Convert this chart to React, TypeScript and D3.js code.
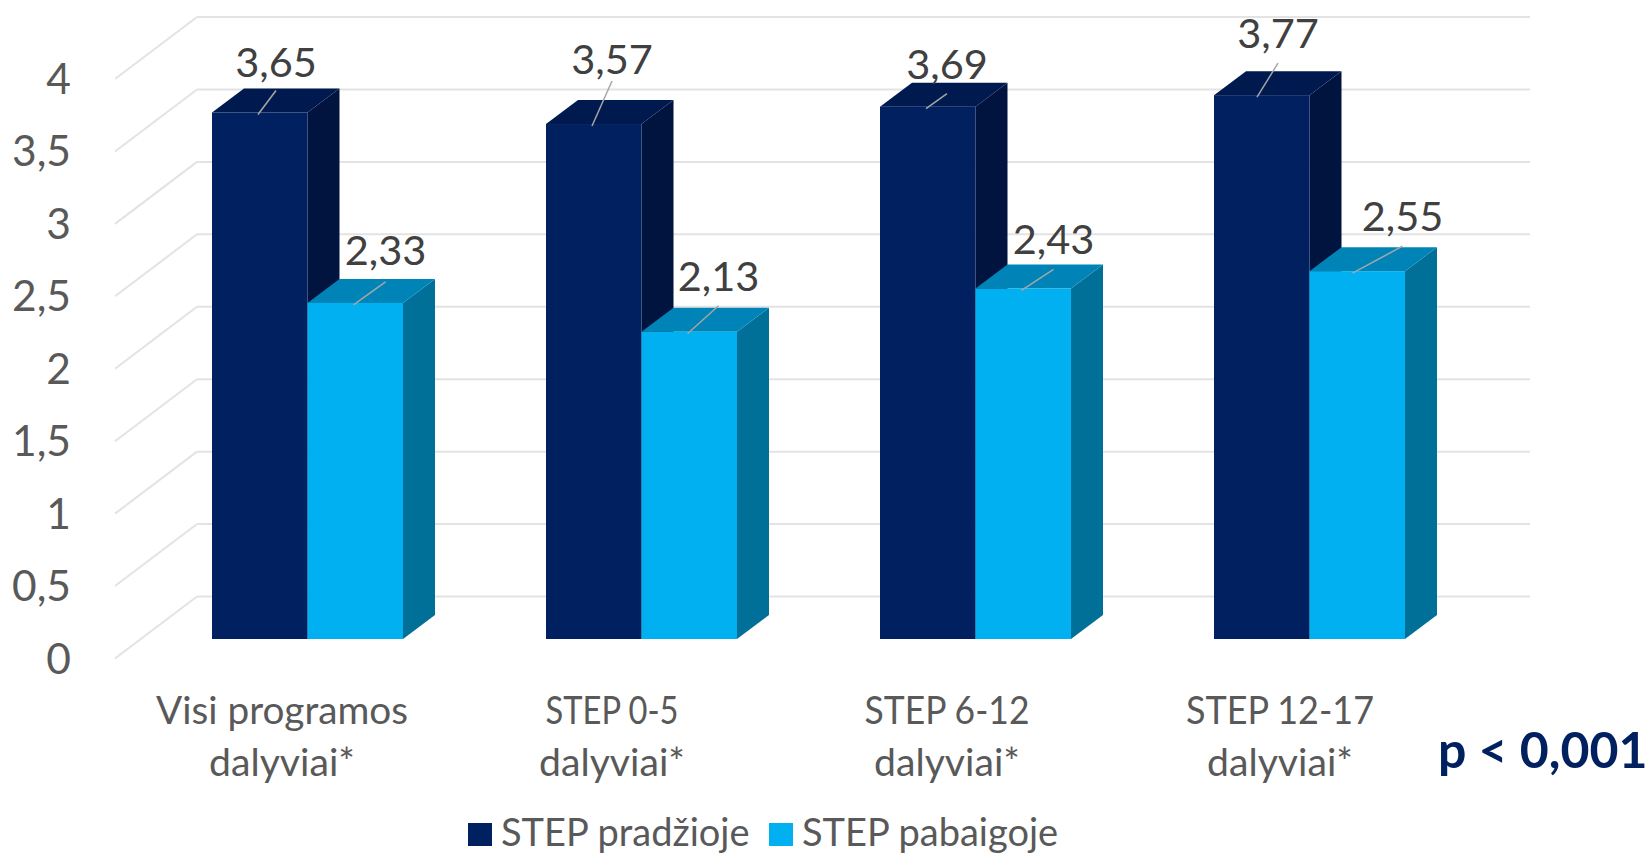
import React from "react";
import * as d3 from "d3";

const categories = [["Visi programos", "dalyviai*"], ["STEP 0-5", "dalyviai*"], ["STEP 6-12", "dalyviai*"], ["STEP 12-17", "dalyviai*"]];
const seriesNames = ["STEP pradžioje", "STEP pabaigoje"];
const startValues = [3.65, 3.57, 3.69, 3.77];
const endValues = [2.33, 2.13, 2.43, 2.55];
const yTicks = [0, 0.5, 1, 1.5, 2, 2.5, 3, 3.5, 4];
const startLeaders = [[18, -24], [20, -45], [21, -15], [21, -34]];
const endLeaders = [[32, -23], [31, -28], [32, -21], [50, -27]];
const startGaps = [13, 7, 15, 15];
const endGaps = [17, 15, 15, 15];
const leaderStart = [46, 46, 46, 43];
const labelShift = [4, 0, 1, 0];
const firstLineWidths = [252, 133, 165, 188];
const secondLineWidth = 146;

const colors = [
  { front: "#002060", top: "#001a50", side: "#00143f" },
  { front: "#00b0f0", top: "#0084b8", side: "#007098" },
];
const comma = (v: number, d?: number) => (d === undefined ? String(v) : v.toFixed(d)).replace(".", ",");
const FONT = "Lato, 'Open Sans', sans-serif";

export default function App() {
  const yBack = d3.scaleLinear().domain([0, 4]).range([596.5, 17]);
  const yBar = d3.scaleLinear().domain([0, 4]).range([639, 62]);
  const wallDx = 82, wallDy = 62;
  const barDx = 32, barDy = 24;
  const floorFront = yBar(0);
  const x0 = d3.scaleBand<number>().domain([0, 1, 2, 3]).range([212, 212 + 334 * 4]);
  const barW = 95.5;
  const barX = (g: number, s: number) => (x0(g) as number) + s * barW;
  const seriesList = [startValues, endValues];

  const bar = (g: number, s: number, v: number) => ({
    x: barX(g, s),
    y: yBar(v),
    c: colors[s],
    leader: (s === 0 ? startLeaders : endLeaders)[g],
    gap: (s === 0 ? startGaps : endGaps)[g],
  });

  return (
    <svg width={1652} height={854} style={{ position: "absolute", left: 0, top: 0, background: "#fff" }} fontFamily={FONT}>
      {yTicks.map((t) => (
        <g key={t} stroke="#e3e3e3" strokeWidth={2} fill="none">
          <line x1={197} x2={1530} y1={yBack(t)} y2={yBack(t)} />
          <line x1={197} x2={197 - wallDx} y1={yBack(t)} y2={yBack(t) + wallDy} />
        </g>
      ))}
      {yTicks.map((t) => (
        <text key={t} x={71} y={yBack(t) + wallDy + 15} textAnchor="end" fontSize={42.5} fill="#595959">{comma(t)}</text>
      ))}
      {categories.map((_, g) =>
        [0, 1].map((s) => {
          const { x, y, c } = bar(g, s, seriesList[s][g]);
          return (
            <g key={`${g}-${s}`}>
              <path d={`M${x + barW},${y}L${x + barW + barDx},${y - barDy}V${floorFront - barDy}L${x + barW},${floorFront}Z`} fill={c.side} />
              <path d={`M${x},${y}L${x + barDx},${y - barDy}H${x + barW + barDx}L${x + barW},${y}Z`} fill={c.top} />
              <rect x={x} y={y} width={barW} height={floorFront - y} fill={c.front} />
            </g>
          );
        })
      )}
      {categories.map((_, g) =>
        [0, 1].map((s) => {
          const { x, y, leader, gap } = bar(g, s, seriesList[s][g]);
          const lx = x + leaderStart[g];
          const ex = lx + leader[0], ey = y + 2 + leader[1];
          return (
            <g key={`${g}-${s}`}>
              <line x1={lx} y1={y + 2} x2={ex} y2={ey} stroke="#a6a6a6" strokeWidth={1.5} />
              <text x={ex} y={ey - gap} textAnchor="middle" fontSize={41.5} fill="#404040">{comma(seriesList[s][g], 2)}</text>
            </g>
          );
        })
      )}
      {categories.map((lines, g) => {
        const cx = (x0(g) as number) + 66 + labelShift[g];
        return (
          <g key={g} textAnchor="middle" fontSize={38.5} fill="#595959">
            <text x={cx} y={724} textLength={firstLineWidths[g]} lengthAdjust="spacingAndGlyphs">{lines[0]}</text>
            <text x={cx} y={776} textLength={secondLineWidth} lengthAdjust="spacingAndGlyphs">{lines[1]}</text>
          </g>
        );
      })}
      <rect x={468} y={823} width={24} height={23} fill={colors[0].front} />
      <text x={501} y={846} fontSize={38} fill="#595959">{seriesNames[0]}</text>
      <rect x={769} y={823} width={24} height={23} fill={colors[1].front} />
      <text x={802} y={846} fontSize={38} fill="#595959">{seriesNames[1]}</text>
      <text x={1438} y={768} fontSize={50} fontWeight={700} fill="#002060">p &lt; 0,001</text>
    </svg>
  );
}
